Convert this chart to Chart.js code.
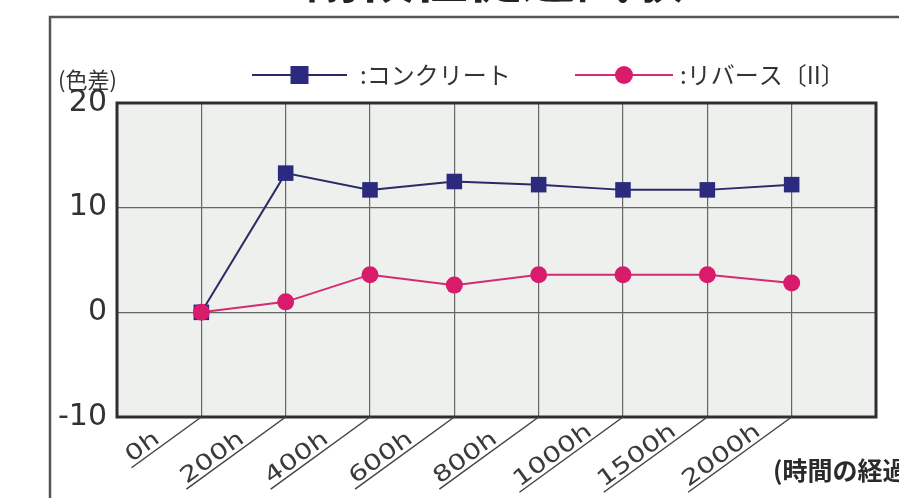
<!DOCTYPE html>
<html>
<head>
<meta charset="utf-8">
<script src="https://cdn.jsdelivr.net/npm/chart.js@4"></script>
<style>
  html, body { margin: 0; padding: 0; background: #fff; }
  #wrap { width: 899px; height: 498px; }
</style>
</head>
<body>
<div id="wrap"><canvas id="chart" width="899" height="498"></canvas></div>
<script>
// data
const hours = ['0h', '200h', '400h', '600h', '800h', '1000h', '1500h', '2000h'];
const concrete = [0, 13.3, 11.7, 12.5, 12.2, 11.7, 11.7, 12.2];
const reverse2 = [0, 1.0, 3.6, 2.6, 3.6, 3.6, 3.6, 2.8];
const yTicks = [-10, 0, 10, 20];
const seriesNames = [':コンクリート', ':リバース〔II〕'];

const toPoints = arr => arr.map((v, i) => ({ x: i, y: v }));

const colors = {
  navy: '#2b2a7e',
  navyLine: '#2a2a66',
  pink: '#d81b6b',
  pinkLine: '#d42a72',
  plotBg: '#eef0ee',
  grid: '#666',
  text: '#333'
};
const jp = '"Noto Sans CJK JP", "Noto Sans CJK SC", sans-serif';

const decor = {
  id: 'decor',
  beforeDraw(chart) {
    const { ctx, chartArea: a } = chart;
    ctx.save();
    ctx.fillStyle = '#fff';
    ctx.fillRect(0, 0, chart.width, chart.height);
    ctx.fillStyle = colors.plotBg;
    ctx.fillRect(a.left, a.top, a.right - a.left, a.bottom - a.top);
    ctx.restore();
  },
  beforeDatasetsDraw(chart) {
    const { ctx, chartArea: a } = chart;
    ctx.save();
    ctx.strokeStyle = '#2e2e2e';
    ctx.lineWidth = 3;
    ctx.strokeRect(a.left, a.top, a.right - a.left, a.bottom - a.top);
    ctx.restore();
  },
  afterDraw(chart) {
    const { ctx, chartArea: a } = chart;
    const xs = chart.scales.x;
    ctx.save();

    // outer frame (top and left edges)
    ctx.strokeStyle = '#555';
    ctx.lineWidth = 2.5;
    ctx.beginPath();
    ctx.moveTo(899, 17);
    ctx.lineTo(50, 17);
    ctx.lineTo(50, 498);
    ctx.stroke();

    // title, mostly cut off at the top
    ctx.fillStyle = '#222';
    ctx.font = 'bold 54px ' + jp;
    ctx.textAlign = 'center';
    ctx.textBaseline = 'alphabetic';
    ctx.fillText('耐候性促進試験', 495, -2);

    // y unit
    ctx.fillStyle = colors.text;
    ctx.font = '22px ' + jp;
    ctx.textAlign = 'left';
    ctx.textBaseline = 'middle';
    ctx.fillText('(色差)', 58, 80);

    // legend
    const items = [
      { x0: 252, x1: 347, tx: 360, ds: chart.data.datasets[0] },
      { x0: 575, x1: 673, tx: 680, ds: chart.data.datasets[1] }
    ];
    const ly = 75;
    items.forEach(it => {
      ctx.strokeStyle = it.ds.borderColor;
      ctx.lineWidth = 2;
      ctx.beginPath();
      ctx.moveTo(it.x0, ly);
      ctx.lineTo(it.x1, ly);
      ctx.stroke();
      const cx = (it.x0 + it.x1) / 2;
      ctx.fillStyle = it.ds.pointBackgroundColor;
      if (it.ds.pointStyle === 'rect') {
        ctx.fillRect(cx - 9, ly - 9, 18, 18);
      } else {
        ctx.beginPath();
        ctx.arc(cx, ly, 9, 0, Math.PI * 2);
        ctx.fill();
      }
      ctx.fillStyle = colors.text;
      ctx.font = '24px ' + jp;
      ctx.textBaseline = 'middle';
      ctx.fillText(it.ds.label, it.tx, ly);
    });

    // slanted x labels with underlines
    const ang = 36 * Math.PI / 180;
    const sx = 1.3;
    ctx.font = '22px "DejaVu Sans"';
    hours.forEach((h, i) => {
      const px = xs.getPixelForValue(i);
      const py = a.bottom;
      const w = ctx.measureText(h).width * sx;
      const L = Math.min(w + 50, 128);
      const x0 = px - L * Math.cos(ang);
      const y0 = py + L * Math.sin(ang);
      ctx.strokeStyle = '#444';
      ctx.lineWidth = 1.5;
      ctx.beginPath();
      ctx.moveTo(px, py);
      ctx.lineTo(x0, y0);
      ctx.stroke();
      ctx.save();
      ctx.translate(x0, y0);
      ctx.rotate(-ang);
      ctx.translate(3, -4);
      ctx.scale(sx, 1);
      ctx.fillStyle = '#3a3a3a';
      ctx.textAlign = 'left';
      ctx.textBaseline = 'alphabetic';
      ctx.fillText(h, 0, 0);
      ctx.restore();
    });

    // x unit, cut at the right edge
    ctx.fillStyle = '#2a2a2a';
    ctx.font = 'bold 25px ' + jp;
    ctx.textAlign = 'left';
    ctx.textBaseline = 'middle';
    ctx.fillText('(時間の経過)', 773, 470);

    ctx.restore();
  }
};

new Chart(document.getElementById('chart'), {
  type: 'line',
  data: {
    datasets: [
      {
        label: seriesNames[0],
        data: toPoints(concrete),
        order: 1,
        borderColor: colors.navyLine,
        borderWidth: 2,
        pointStyle: 'rect',
        pointRadius: 11,
        pointBackgroundColor: colors.navy,
        pointBorderColor: colors.navy,
        pointBorderWidth: 0,
        tension: 0
      },
      {
        label: seriesNames[1],
        data: toPoints(reverse2),
        order: 0,
        borderColor: colors.pinkLine,
        borderWidth: 2,
        pointStyle: 'circle',
        pointRadius: 8.5,
        pointBackgroundColor: colors.pink,
        pointBorderColor: colors.pink,
        pointBorderWidth: 0,
        tension: 0
      }
    ]
  },
  options: {
    responsive: false,
    animation: false,
    layout: { padding: { left: 0, top: 103, right: 23, bottom: 0 } },
    plugins: {
      legend: { display: false },
      tooltip: { enabled: false }
    },
    scales: {
      x: {
        type: 'linear',
        min: -1,
        max: hours.length,
        afterFit: s => { s.height = 81; },
        afterBuildTicks: s => { s.ticks = hours.map((h, i) => ({ value: i })); },
        ticks: { display: false },
        grid: { color: colors.grid, lineWidth: 1.2, drawTicks: false },
        border: { display: false }
      },
      y: {
        min: yTicks[0],
        max: yTicks[yTicks.length - 1],
        afterFit: s => { s.width = 117; },
        afterBuildTicks: s => { s.ticks = yTicks.map(v => ({ value: v })); },
        ticks: {
          padding: 10,
          color: colors.text,
          font: { family: 'DejaVu Sans', size: 30 }
        },
        grid: { color: colors.grid, lineWidth: 1.2, drawTicks: false },
        border: { display: false }
      }
    }
  },
  plugins: [decor]
});
</script>
</body>
</html>
